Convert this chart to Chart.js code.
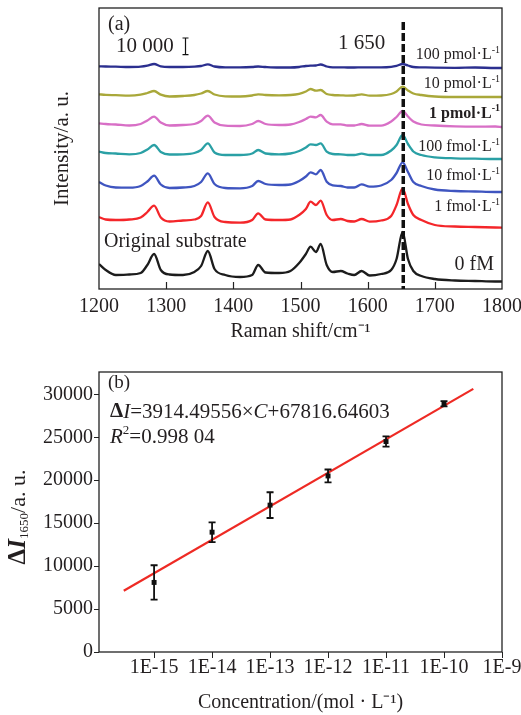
<!DOCTYPE html>
<html lang="en">
<head>
<meta charset="utf-8">
<title>SERS spectra and calibration</title>
<script src="https://cdn.jsdelivr.net/npm/chart.js@4.4.1/dist/chart.umd.min.js"></script>
<style>
  html, body { margin: 0; padding: 0; background: #fff; }
  .panel { position: absolute; left: 0; width: 521px; }
  #wrapA { top: 0; height: 350px; }
  #wrapB { top: 350px; height: 365px; }
</style>
</head>
<body>
<div class="panel" id="wrapA"><canvas id="spectra"></canvas></div>
<div class="panel" id="wrapB"><canvas id="calib"></canvas></div>

<script>
// ---------- (a) Raman spectra, intensity in 10^3 a.u. above each trace's own baseline
const shift = [1200, 1210, 1225, 1245, 1262, 1272, 1282, 1292, 1305, 1325,
               1342, 1352, 1362, 1372, 1388, 1410, 1428, 1437, 1448, 1468,
               1485, 1498, 1508, 1515, 1523, 1530, 1539, 1548, 1560, 1570,
               1580, 1591, 1603, 1620, 1635, 1643, 1652, 1660, 1668, 1680,
               1700, 1730, 1760, 1790, 1800];

const spec100pM = [1.0, 0.9, 0.8, 0.6, 0.8, 1.4, 2.4, 1.0, 0.6, 0.6,
                   0.8, 1.2, 2.2, 0.9, 0.4, 0.4, 0.6, 0.9, 0.6, 0.3,
                   0.3, 0.6, 1.2, 1.4, 1.5, 2.1, 0.9, 0.4, 0.4, 0.3,
                   0.3, 0.4, 0.4, 0.4, 0.7, 1.3, 2.4, 1.5, 0.6, 0.4,
                   0.2, 0.1, 0.3, 0, 0];
const spec10pM = [1.6, 1.3, 1.1, 0.8, 1.4, 2.4, 3.6, 1.4, 0.3, 0.6,
                  1.2, 2.1, 3.6, 1.5, 0.4, 0.3, 0.9, 1.6, 1.2, 1.0,
                  1.2, 1.9, 3.3, 4.8, 3.8, 4.2, 1.8, 1.2, 1.0, 0.8,
                  0.9, 1.6, 0.8, 0.9, 1.8, 3.3, 6.2, 3.9, 2.1, 1.2,
                  0.3, 0, 0, 0, 0];
const spec1pM = [2.2, 1.8, 1.5, 0.9, 1.8, 3.9, 6.2, 2.7, 0.9, 1.2,
                 1.8, 3.6, 6.8, 2.7, 0.8, 0.6, 1.8, 3.6, 1.8, 1.2,
                 1.5, 3.0, 4.8, 6.2, 5.8, 7.2, 3.2, 1.6, 1.6, 0.9,
                 0.9, 1.8, 0.8, 0.8, 3.3, 6.0, 9.6, 6.3, 3.3, 1.5,
                 0.9, 0.4, 0.2, 0.3, 0];
const spec100fM = [4.5, 3.6, 3.3, 2.8, 3.6, 5.7, 8.4, 4.2, 2.7, 2.8,
                   3.6, 5.4, 9.4, 3.9, 2.4, 2.4, 3.3, 5.4, 3.3, 2.8,
                   3.3, 4.8, 6.9, 8.8, 8.4, 9.4, 4.4, 3.0, 2.8, 2.4,
                   2.4, 3.2, 2.4, 2.4, 5.1, 8.4, 14.4, 9.0, 4.5, 2.4,
                   1.0, 0.4, 0.2, 0, 0];
const spec10fM = [6.0, 3.9, 2.7, 2.6, 3.6, 6.3, 9.8, 4.5, 2.4, 2.7,
                  3.6, 6.0, 11.2, 4.8, 2.4, 2.2, 3.6, 6.6, 4.8, 4.2,
                  4.5, 6.6, 9.3, 11.8, 10.6, 13.2, 6.2, 4.0, 3.6, 2.7,
                  2.7, 4.6, 3.2, 3.9, 7.2, 11.4, 17.8, 12.0, 6.0, 3.6,
                  1.5, 0.6, 0.3, 0, 0];
const spec1fM = [6.6, 5.1, 4.8, 5.1, 6.3, 9.6, 13.4, 6.3, 3.9, 4.5,
                 5.1, 7.2, 15.4, 6.6, 3.6, 3.2, 4.8, 8.8, 5.1, 4.8,
                 5.1, 7.8, 11.4, 15.8, 13.8, 16.4, 7.8, 4.8, 5.4, 4.2,
                 3.9, 5.4, 3.8, 4.5, 7.2, 13.8, 23.8, 14.4, 7.8, 4.8,
                 1.8, 0.9, 0.6, 0.3, 0.2];
const specBlank = [10.8, 7.2, 4.2, 4.5, 5.4, 10.2, 16.8, 7.2, 4.5, 4.2,
                   6.0, 9.6, 18.6, 7.8, 4.2, 3.0, 4.2, 10.2, 5.7, 5.4,
                   6.6, 11.4, 16.8, 21.2, 18.0, 22.8, 10.2, 6.0, 6.6, 5.1,
                   4.2, 6.6, 3.9, 4.8, 7.2, 13.8, 30.0, 13.8, 6.6, 3.6,
                   1.8, 0.9, 0.6, 0.3, 0.3];

const traceNames   = ['100 pmol·L⁻¹', '10 pmol·L⁻¹', '1 pmol·L⁻¹', '100 fmol·L⁻¹', '10 fmol·L⁻¹', '1 fmol·L⁻¹', '0 fM'];
const traceSpectra = [spec100pM, spec10pM, spec1pM, spec100fM, spec10fM, spec1fM, specBlank];
const traceOffsets = [132.6, 115.2, 97.2, 78, 58.2, 36.6, 4.2];   // stacking offset, 10^3 a.u.
const traceColors  = ['#2b2f8f', '#a9a83a', '#d86fc6', '#2aa0a5', '#3f55c0', '#f4262a', '#1c1c1c'];
const peakLine  = 1653;     // where the dashed guide at the 1 650 band sits
const scaleBar  = 10;       // 10^3 a.u. -> "10 000"

// ---------- (b) calibration
const concentration = [1e-15, 1e-14, 1e-13, 1e-12, 1e-11, 1e-10];
const deltaI        = [8100, 13950, 17100, 20500, 24500, 28900];
const deltaIErr     = [2000, 1150, 1500, 750, 600, 300];
const fitConc       = [3.0e-16, 3.2e-10];
const fitDeltaI     = [7140, 30630];
const xTickValues   = [1e-15, 1e-14, 1e-13, 1e-12, 1e-11, 1e-10, 1e-9];
const xTickLabels   = ['1E-15', '1E-14', '1E-13', '1E-12', '1E-11', '1E-10', '1E-9'];
const yTickValues   = [0, 5000, 10000, 15000, 20000, 25000, 30000];

const serif = '"Liberation Serif", "Times New Roman", serif';
const ink = '#231f20';

Chart.defaults.font.family = serif;
Chart.defaults.color = ink;
Chart.defaults.animation = false;
Chart.defaults.events = [];

// draws a row of text pieces: [text, size, style, dy]
function drawRuns(ctx, runs, x, y, align) {
  let w = 0;
  runs.forEach(r => { ctx.font = `${r[2] || ''} ${r[1]}px ${serif}`; w += ctx.measureText(r[0]).width; });
  let cx = align === 'right' ? x - w : align === 'center' ? x - w / 2 : x;
  ctx.textAlign = 'left';
  ctx.textBaseline = 'middle';
  runs.forEach(r => {
    ctx.font = `${r[2] || ''} ${r[1]}px ${serif}`;
    ctx.fillText(r[0], cx, y + (r[3] || 0));
    cx += ctx.measureText(r[0]).width;
  });
}

function unitRuns(label, size, style) {
  if (label.endsWith('⁻¹')) {
    return [[label.slice(0, -2), size, style], ['-1', Math.round(size * 0.62), style, -size * 0.32]];
  }
  return [[label, size, style]];
}

const framePlugin = {
  id: 'frame',
  afterDatasetsDraw(chart) {
    const { ctx, chartArea: a } = chart;
    ctx.save();
    ctx.strokeStyle = '#222';
    ctx.lineWidth = 1.3;
    ctx.strokeRect(a.left, a.top, a.right - a.left, a.bottom - a.top);
    ctx.restore();
  }
};

// ---------- chart (a)
const spectraPlugin = {
  id: 'spectraDecor',
  afterDraw(chart) {
    const { ctx, chartArea: a } = chart;
    const xs = chart.scales.x, ys = chart.scales.y;
    ctx.save();
    // inward ticks
    ctx.strokeStyle = '#222';
    ctx.lineWidth = 1.2;
    xs.ticks.forEach(t => {
      if (t.value <= xs.min || t.value >= xs.max) return;
      const px = Math.round(xs.getPixelForValue(t.value)) + 0.5;
      ctx.beginPath(); ctx.moveTo(px, a.bottom); ctx.lineTo(px, a.bottom - 7); ctx.stroke();
    });
    // dashed guide at the 1650 band
    const gx = xs.getPixelForValue(peakLine);
    ctx.strokeStyle = '#111';
    ctx.lineWidth = 3.5;
    ctx.setLineDash([8, 3]);
    ctx.beginPath(); ctx.moveTo(gx, 22); ctx.lineTo(gx, a.bottom); ctx.stroke();
    ctx.setLineDash([]);
    // scale bar
    const barH = ys.getPixelForValue(0) - ys.getPixelForValue(scaleBar);
    const bx = 185.5, by = 38;
    ctx.lineWidth = 1.2;
    ctx.beginPath();
    ctx.moveTo(bx, by); ctx.lineTo(bx, by + barH);
    ctx.moveTo(bx - 3, by); ctx.lineTo(bx + 3, by);
    ctx.moveTo(bx - 3, by + barH); ctx.lineTo(bx + 3, by + barH);
    ctx.stroke();
    // texts
    ctx.fillStyle = ink;
    drawRuns(ctx, [['(a)', 20]], 108, 25, 'left');
    drawRuns(ctx, [['10 000', 21]], 116, 46, 'left');
    drawRuns(ctx, [['1 650', 21]], 338, 43, 'left');
    const labelY = [55, 84, 114, 147, 176, 207];
    traceNames.slice(0, 6).forEach((n, i) => {
      drawRuns(ctx, unitRuns(n, 16, i === 2 ? 'bold' : ''), 500, labelY[i], 'right');
    });
    drawRuns(ctx, [[traceNames[6], 20]], 494, 265, 'right');
    drawRuns(ctx, [['Original substrate', 20]], 104, 242, 'left');
    ctx.restore();
  }
};

new Chart(document.getElementById('spectra'), {
  type: 'line',
  data: {
    datasets: traceSpectra.map((s, k) => ({
      label: traceNames[k],
      data: shift.map((x, i) => ({ x: x, y: traceOffsets[k] + s[i] })),
      borderColor: traceColors[k],
      borderWidth: 2.3,
      pointRadius: 0,
      cubicInterpolationMode: 'monotone'
    }))
  },
  options: {
    responsive: true,
    maintainAspectRatio: false,
    layout: { padding: { top: 8, right: 19, left: 0, bottom: 0 } },
    plugins: { legend: { display: false }, tooltip: { enabled: false } },
    scales: {
      x: {
        type: 'linear', min: 1200, max: 1800,
        ticks: { stepSize: 100, padding: -2, font: { size: 20 }, maxRotation: 0, callback: v => String(v) },
        grid: { display: false },
        border: { display: false },
        title: { display: true, text: 'Raman shift/cm⁻¹', font: { size: 20 }, padding: { top: 0, bottom: 6 } },
        afterFit: s => { s.height = 61; s.paddingLeft = 0; s.paddingRight = 0; }
      },
      y: {
        min: 0, max: 168.6,
        ticks: { display: false },
        grid: { display: false },
        border: { display: false },
        title: { display: true, text: 'Intensity/a. u.', font: { size: 21 }, padding: { top: 50, bottom: 0 } },
        afterFit: s => { s.width = 99; }
      }
    }
  },
  plugins: [framePlugin, spectraPlugin]
});

// ---------- chart (b)
const calibPlugin = {
  id: 'calibDecor',
  afterDatasetsDraw(chart) {
    const { ctx } = chart;
    const ys = chart.scales.y;
    const meta = chart.getDatasetMeta(0);
    ctx.save();
    ctx.strokeStyle = '#111';
    ctx.lineWidth = 1.8;
    meta.data.forEach((pt, i) => {
      const hi = ys.getPixelForValue(deltaI[i] + deltaIErr[i]);
      const lo = ys.getPixelForValue(deltaI[i] - deltaIErr[i]);
      ctx.beginPath();
      ctx.moveTo(pt.x, hi); ctx.lineTo(pt.x, lo);
      ctx.moveTo(pt.x - 3.5, hi); ctx.lineTo(pt.x + 3.5, hi);
      ctx.moveTo(pt.x - 3.5, lo); ctx.lineTo(pt.x + 3.5, lo);
      ctx.stroke();
    });
    ctx.fillStyle = ink;
    drawRuns(ctx, [['(b)', 19]], 108, 33, 'left');
    drawRuns(ctx, [['Δ', 21, 'bold'], ['I', 21, 'italic'], ['=3914.49556×', 21], ['C', 21, 'italic'], ['+67816.64603', 21]], 110, 62, 'left');
    drawRuns(ctx, [['R', 21, 'italic'], ['2', 13, '', -6], ['=0.998 04', 21]], 110, 87, 'left');
    // rotated y title
    ctx.translate(19, (chart.chartArea.top + chart.chartArea.bottom) / 2 + 5);
    ctx.rotate(-Math.PI / 2);
    drawRuns(ctx, [['Δ', 25, 'bold'], ['I', 25, 'bold italic'], ['1650', 13, '', 6], ['/a. u.', 22]], 0, 0, 'center');
    ctx.restore();
  }
};

new Chart(document.getElementById('calib'), {
  type: 'scatter',
  data: {
    datasets: [
      {
        label: 'ΔI1650',
        data: concentration.map((c, i) => ({ x: c, y: deltaI[i] })),
        pointStyle: 'rect',
        pointRadius: 3.5,
        backgroundColor: '#111',
        borderColor: '#111',
        borderWidth: 0
      },
      {
        label: 'fit',
        type: 'line',
        data: fitConc.map((c, i) => ({ x: c, y: fitDeltaI[i] })),
        borderColor: '#ee2a24',
        borderWidth: 2.2,
        pointRadius: 0
      }
    ]
  },
  options: {
    responsive: true,
    maintainAspectRatio: false,
    layout: { padding: { top: 22, right: 19, left: 0, bottom: 0 } },
    plugins: { legend: { display: false }, tooltip: { enabled: false } },
    scales: {
      x: {
        type: 'logarithmic', min: 1.122e-16, max: 1e-9,
        afterBuildTicks: s => { s.ticks = xTickValues.map(v => ({ value: v })); },
        ticks: { callback: (v, i) => xTickLabels[i], padding: -2, font: { size: 20 }, maxRotation: 0, autoSkip: false },
        grid: { drawOnChartArea: false, drawTicks: true, tickLength: 6, color: '#222' },
        border: { display: false },
        title: { display: true, text: 'Concentration/(mol · L⁻¹)', font: { size: 20 }, padding: { top: 0, bottom: 0 } },
        afterFit: s => { s.height = 63; s.paddingLeft = 0; s.paddingRight = 0; }
      },
      y: {
        min: 0, max: 32600,
        afterBuildTicks: s => { s.ticks = yTickValues.map(v => ({ value: v })); },
        ticks: { padding: 1, font: { size: 20 }, callback: v => String(v) },
        grid: { drawOnChartArea: false, drawTicks: true, tickLength: 5, color: '#222' },
        border: { display: false },
        afterFit: s => { s.width = 99; }
      }
    }
  },
  plugins: [framePlugin, calibPlugin]
});
</script>
</body>
</html>
